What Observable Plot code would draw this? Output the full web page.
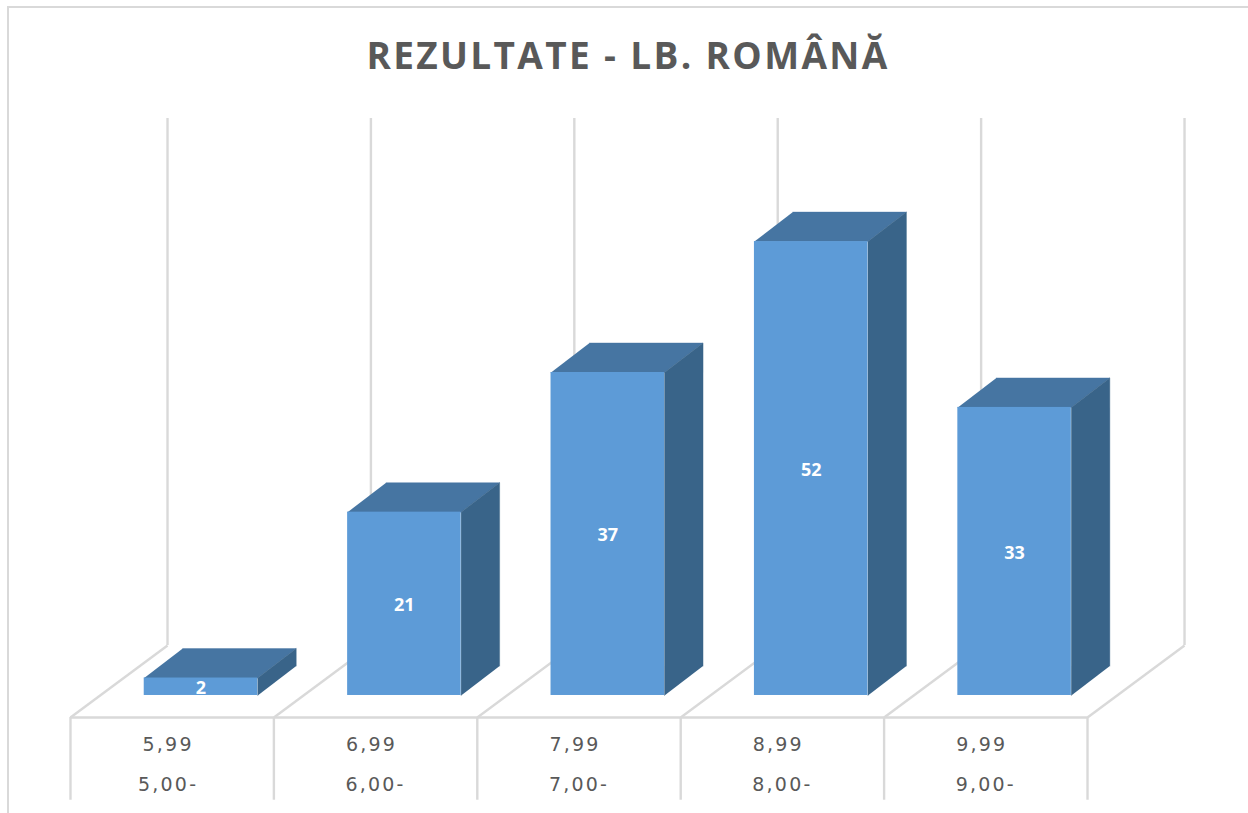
<!DOCTYPE html>
<html><head><meta charset="utf-8">
<script src="https://cdn.jsdelivr.net/npm/d3@7"></script>
<script src="https://cdn.jsdelivr.net/npm/@observablehq/plot@0.6"></script>
<style>
html,body{margin:0;padding:0;background:#fff;overflow:hidden}
#wrap{position:relative;width:1248px;height:813px}
#frame{position:absolute;left:7px;top:6px;right:-5px;height:806px;border-left:2px solid #d9d9d9;border-top:2px solid #d9d9d9}
#title{position:absolute;left:4px;width:1248px;top:30px;height:50px;text-align:center;font:700 37px/50px "Open Sans",sans-serif;letter-spacing:2.35px;color:#595959}
#chart{position:absolute;left:0;top:100px}
#chart svg{display:block;background:transparent}
.cat text{letter-spacing:2.2px}
</style></head><body>
<div id="wrap"><div id="frame"></div><div id="title">REZULTATE - LB. ROMÂNĂ</div><div id="chart"></div></div>
<script>
const upperLabels = ["5,99","6,99","7,99","8,99","9,99"];
const lowerLabels = ["5,00-","6,00-","7,00-","8,00-","9,00-"];
const counts = [2,21,37,52,33];

// chart geometry, in data units
const gap = 0.3625, barW = 0.558, barDx = 0.1893, barDy = 3.38;
const wallDx = 0.477, floorY = -2.52, wallTop = 66.1, dropBottom = -12;
const lowerNudge = [0, 0.02, 0.02, 0.02, 0.02];
const n = counts.length;
const edges = d3.range(n + 1);
const bars = counts.map((v, i) => ({i, v, x1: i + gap, x2: i + gap + barW}));
const topFace = bars.flatMap(b => [
  {k: b.i, x: b.x1, y: b.v}, {k: b.i, x: b.x2, y: b.v},
  {k: b.i, x: b.x2 + barDx, y: b.v + barDy}, {k: b.i, x: b.x1 + barDx, y: b.v + barDy}
]);
const sideFace = bars.flatMap(b => [
  {k: b.i, x: b.x2, y: 0}, {k: b.i, x: b.x2, y: b.v},
  {k: b.i, x: b.x2 + barDx, y: b.v + barDy}, {k: b.i, x: b.x2 + barDx, y: barDy}
]);
const grid = {stroke: "#d9d9d9", strokeWidth: 2.4};
const catText = {fontFamily: "'DejaVu Sans',sans-serif", fontSize: 19, fill: "#595959", className: "cat"};

const plot = Plot.plot({
  width: 1248, height: 713,
  marginLeft: 0, marginRight: 0, marginTop: 0, marginBottom: 0,
  x: {domain: [-0.3441, 5.7915], range: [0, 1248], axis: null},
  y: {domain: [-13.52, 68.16], range: [713, 0], axis: null},
  marks: [
    Plot.ruleX(edges, {x: d => d + wallDx, y1: floorY + 8.25, y2: wallTop, ...grid}),
    Plot.link(edges, {x1: d => d, y1: floorY, x2: d => d + wallDx, y2: floorY + 8.25, ...grid}),
    Plot.ruleX(edges, {x: d => d, y1: dropBottom, y2: floorY, ...grid}),
    Plot.ruleY([floorY], {x1: 0, x2: n, ...grid}),
    Plot.line(topFace, {x: "x", y: "y", z: "k", fill: "#4675a2", stroke: "#4675a2", strokeWidth: 0.4}),
    Plot.line(sideFace, {x: "x", y: "y", z: "k", fill: "#396489", stroke: "#396489", strokeWidth: 0.4}),
    Plot.rect(bars, {x1: "x1", x2: "x2", y1: 0, y2: "v", fill: "#5d9bd7"}),
    Plot.text(bars, {x: d => (d.x1 + d.x2) / 2, y: d => d.v / 2, dy: 1.5, text: d => String(d.v),
      fill: "white", fontWeight: 700, fontSize: 18, fontFamily: "'Open Sans',sans-serif"}),
    Plot.text(upperLabels, {x: (d, i) => i + 0.48, y: -5.7, text: d => d, ...catText}),
    Plot.text(lowerLabels, {x: (d, i) => i + 0.48 + lowerNudge[i], y: -10.3, text: d => d, ...catText})
  ]
});
document.getElementById("chart").append(plot);
</script></body></html>
